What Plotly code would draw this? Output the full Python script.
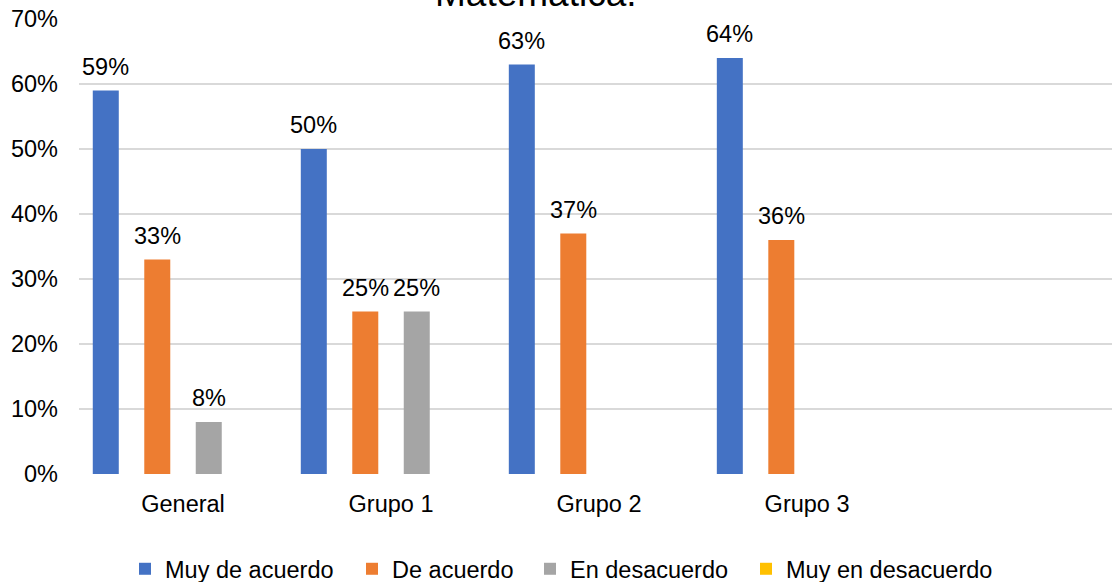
import plotly.graph_objects as go

# Categories and response shares per group
categories = ["General", "Grupo 1", "Grupo 2", "Grupo 3"]
muy_de_acuerdo = [0.59, 0.50, 0.63, 0.64]
de_acuerdo = [0.33, 0.25, 0.37, 0.36]
en_desacuerdo = [0.08, 0.25, None, None]
muy_en_desacuerdo = [None, None, None, None]

series_names = ["Muy de acuerdo", "De acuerdo", "En desacuerdo", "Muy en desacuerdo"]
series_values = [muy_de_acuerdo, de_acuerdo, en_desacuerdo, muy_en_desacuerdo]
series_colors = ["#4472C4", "#ED7D31", "#A5A5A5", "#FFC000"]

FONT = "Liberation Sans, Arial, sans-serif"
FS = 23.5
W, H = 1112, 582
MARGIN_L, MARGIN_R = 79, 0
X_RANGE = [-0.5, 4.466]
BARGAP, BARGROUPGAP = 0.01, 0.495

# one legend per series so each entry sits at its own spot along the bottom
legend_text_x = [165, 392, 570, 786]
legend_ids = ["legend", "legend2", "legend3", "legend4"]

fig = go.Figure()
for name, vals, color, lid in zip(series_names, series_values, series_colors, legend_ids):
    fig.add_trace(go.Bar(
        name=name,
        x=categories,
        y=vals,
        marker=dict(color=color, line=dict(width=0)),
        legend=lid,
        hovertemplate="%{x}: %{y:.0%}<extra>" + name + "</extra>",
    ))

# value labels above each bar, shifted sideways to the bar's slot in the group
cat_px = (W - MARGIN_L - MARGIN_R) / (X_RANGE[1] - X_RANGE[0])
slot_px = cat_px * (1 - BARGAP) / len(series_names)
for i, vals in enumerate(series_values):
    dx = (i - (len(series_names) - 1) / 2) * slot_px
    for cat, v in zip(categories, vals):
        if v is None:
            continue
        fig.add_annotation(
            x=cat, y=v, xref="x", yref="y",
            text=f"{v:.0%}",
            showarrow=False,
            xanchor="center", yanchor="bottom",
            xshift=dx, yshift=9,
            font=dict(size=FS, color="#000000", family=FONT),
        )

fig.add_annotation(
    text="Matemática.",
    xref="paper", yref="paper",
    x=(536 - MARGIN_L) / (W - MARGIN_L - MARGIN_R), y=1.057,
    xanchor="center", yanchor="middle",
    showarrow=False,
    font=dict(size=37, color="#000000", family=FONT),
)

legend_common = dict(
    orientation="h",
    xref="container", yref="container",
    xanchor="left", yanchor="middle",
    y=(H - 569) / H,
    font=dict(size=FS, family=FONT, color="#000000"),
    bgcolor="rgba(0,0,0,0)",
    borderwidth=0,
    itemclick=False,
    itemdoubleclick=False,
)
legend_layout = {}
for lid, tx in zip(legend_ids, legend_text_x):
    legend_layout[lid] = dict(legend_common, x=(tx - 40) / W)

fig.update_layout(
    width=W, height=H,
    autosize=False,
    margin=dict(l=MARGIN_L, r=MARGIN_R, t=19, b=108, autoexpand=False),
    paper_bgcolor="#FFFFFF",
    plot_bgcolor="#FFFFFF",
    barmode="group",
    bargap=BARGAP,
    bargroupgap=BARGROUPGAP,
    font=dict(family=FONT, size=FS, color="#000000"),
    showlegend=True,
    **legend_layout,
)

fig.update_xaxes(
    type="category",
    range=X_RANGE,
    showgrid=False,
    showline=False,
    zeroline=False,
    ticks="",
    ticklabelstandoff=13,
    tickfont=dict(size=FS, family=FONT, color="#000000"),
)

fig.update_yaxes(
    range=[0, 0.7001],
    dtick=0.1,
    tickformat=".0%",
    showgrid=True,
    gridcolor="#D9D9D9",
    gridwidth=2,
    zeroline=False,
    showline=False,
    ticks="",
    ticklabelstandoff=20,
    tickfont=dict(size=FS, family=FONT, color="#000000"),
)

fig.write_html("out.html")
